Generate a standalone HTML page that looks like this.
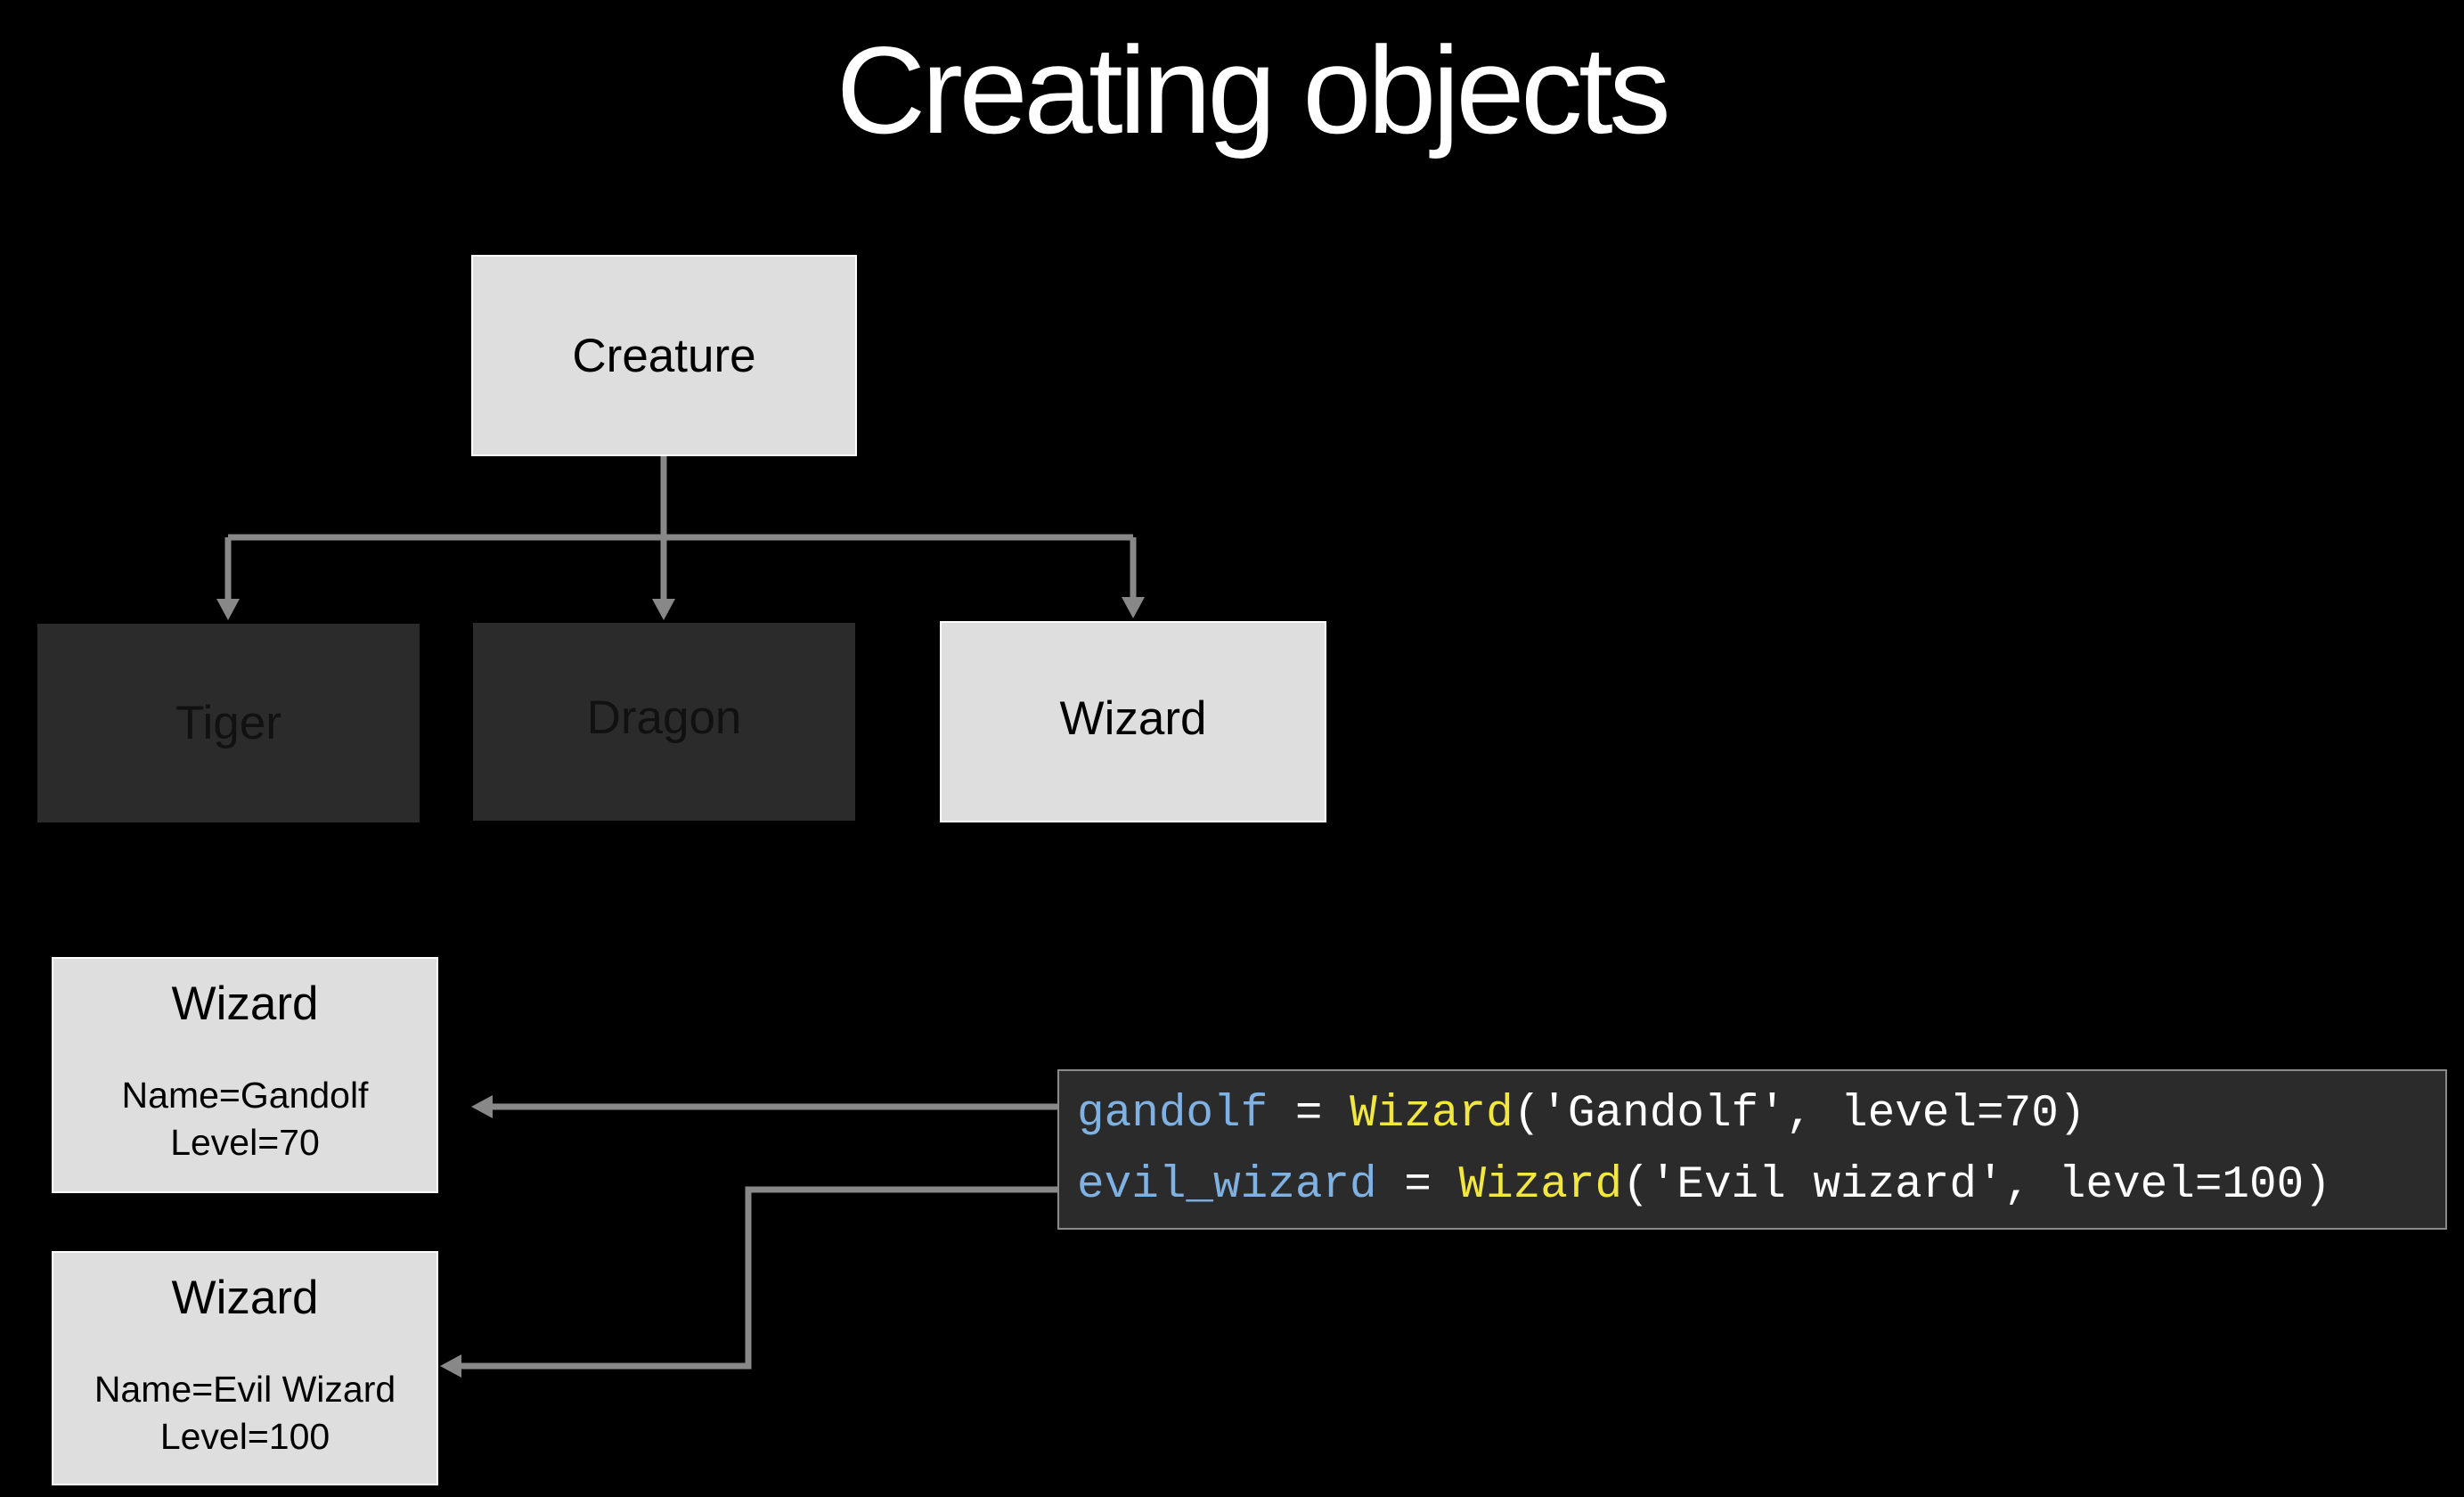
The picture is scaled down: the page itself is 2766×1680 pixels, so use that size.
<!DOCTYPE html>
<html><head><style>
body{margin:0;background:#000;width:2766px;height:1680px;overflow:hidden;position:relative;font-family:"Liberation Sans",sans-serif}
.b{position:absolute;box-sizing:border-box;display:flex;align-items:center;justify-content:center;text-align:center;color:#000}
.l{background:#dedede;border:2px solid #fff}
.d{background:#2b2b2b}
.code{position:absolute;left:1187px;top:1200px;width:1560px;height:180px;background:#2b2b2b;border:2px solid #8a8a8a;box-sizing:border-box;font-family:"Liberation Mono",monospace;font-size:51px;color:#fff;white-space:pre}
.code div{position:absolute;left:20px}
.v{color:#7fb1e3}.y{color:#f2e640}
</style></head><body>
<div style="position:absolute;left:50px;width:2710px;top:22px;text-align:center;color:#fff;font-size:139px;letter-spacing:-4.5px">Creating objects</div>
<div class="b l" style="left:529px;top:286px;width:433px;height:226px;font-size:53px">Creature</div>
<div class="b d" style="left:42px;top:700px;width:429px;height:223px;font-size:53px;color:#111">Tiger</div>
<div class="b d" style="left:531px;top:699px;width:429px;height:222px;font-size:53px;color:#111;padding-bottom:10px">Dragon</div>
<div class="b l" style="left:1055px;top:697px;width:434px;height:226px;font-size:53px;padding-bottom:8px">Wizard</div>
<div class="b l" style="left:58px;top:1074px;width:434px;height:265px;flex-direction:column;justify-content:flex-start"><div style="font-size:53px;margin-top:20px">Wizard</div><div style="font-size:41px;line-height:53px;margin-top:46px">Name=Gandolf<br>Level=70</div></div>
<div class="b l" style="left:58px;top:1404px;width:434px;height:263px;flex-direction:column;justify-content:flex-start"><div style="font-size:53px;margin-top:20px">Wizard</div><div style="font-size:41px;line-height:53px;margin-top:46px">Name=Evil Wizard<br>Level=100</div></div>
<div class="code"><div style="top:20px"><span class="v">gandolf</span> = <span class="y">Wizard</span>('Gandolf', level=70)</div><div style="top:100px"><span class="v">evil_wizard</span> = <span class="y">Wizard</span>('Evil wizard', level=100)</div></div>
<svg width="2766" height="1680" style="position:absolute;left:0;top:0" fill="none" stroke="#888" stroke-width="7">
<path d="M745 512V675M256 603H1272M256 603V675M1272 603V675"/>
<path d="M1187 1242H550M1187 1335H840V1533H515"/>
<g fill="#888" stroke="none">
<path d="M243 672h26l-13 24zM732 672h26l-13 24zM1259 670h26l-13 24z"/>
<path d="M529 1242l24-13v26zM494 1533l24-13v26z"/>
</g></svg>
</body></html>
